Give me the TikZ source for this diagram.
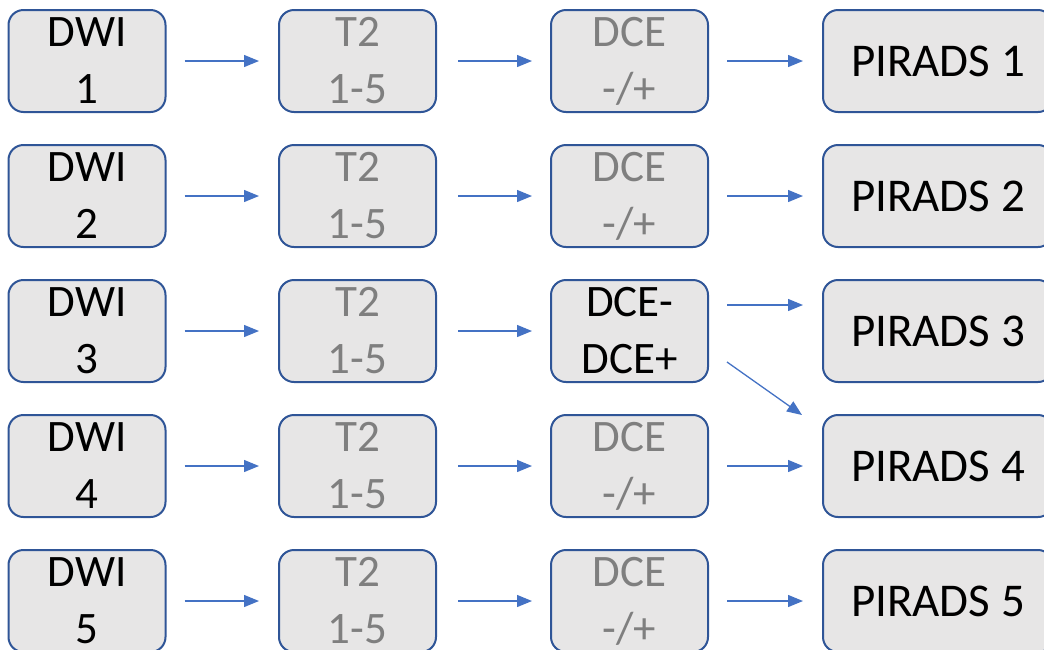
\documentclass[tikz,border=0pt]{standalone}
\usepackage{fontspec}
\setmainfont{Carlito}
\usetikzlibrary{calc,arrows.meta}
\definecolor{boxfill}{HTML}{E7E6E6}
\definecolor{boxline}{HTML}{2F5597}
\definecolor{arrowc}{HTML}{4472C4}
\definecolor{graytxt}{HTML}{7F7F7F}
\begin{document}
\begin{tikzpicture}[x=1pt,y=-1pt,
  stepbox/.style={draw=boxline, line width=2pt, fill=boxfill, rounded corners=15pt,
    minimum width=157pt, minimum height=102pt, inner sep=0pt, align=center,
    font=\fontsize{45}{57}\selectfont},
  graybox/.style={stepbox, text=graytxt},
  piradsbox/.style={stepbox, minimum width=230pt, font=\fontsize{47}{57}\selectfont},
  flow/.style={draw=arrowc, line width=1.3pt, -{Triangle[length=15pt,width=12pt]}},
  flowgap/.style={flow, shorten <=18pt, shorten >=19pt}]
\useasboundingbox (0,0) rectangle (1044,649);
\clip (0,0) rectangle (1044,649);
\foreach \i in {1,...,5}{
  \pgfmathsetmacro{\yy}{61+135*(\i-1)}
  \node[stepbox] (dwi\i) at (87,\yy) {DWI\\\i};
  \node[graybox] (t\i) at (357.5,\yy) {T2\\1-5};
  \node[piradsbox] (p\i) at (938,\yy) {PIRADS \i};
  \draw[flowgap] (dwi\i) -- (t\i);
}
\node[graybox] (dce1) at (629.5,61) {DCE\\-/+};
\node[graybox] (dce2) at (629.5,196) {DCE\\-/+};
\node[stepbox] (dce3) at (629.5,331) {DCE-\\DCE+};
\node[graybox] (dce4) at (629.5,466) {DCE\\-/+};
\node[graybox] (dce5) at (629.5,601) {DCE\\-/+};
\foreach \i in {1,...,5}{
  \draw[flowgap, shorten <=21pt, shorten >=18pt] (t\i) -- (dce\i);
}
\draw[flowgap] (dce1) -- (p1);
\draw[flowgap] (dce2) -- (p2);
\draw[flowgap] ($(dce3.east)+(0,-26)$) -- ($(p3.west)+(0,-26)$);
\draw[flow] ($(dce3.east)+(18,31)$) -- ($(p4.west)+(-20,-51)$);
\draw[flowgap] (dce4) -- (p4);
\draw[flowgap] (dce5) -- (p5);
\end{tikzpicture}
\end{document}
